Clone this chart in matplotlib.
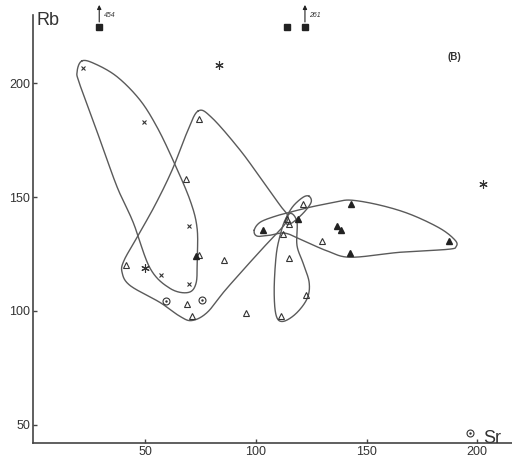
import numpy as np
import matplotlib
matplotlib.use("Agg")
import matplotlib.pyplot as plt

plt.rcParams['font.family'] = ['Liberation Sans Narrow', 'Liberation Sans', 'DejaVu Sans']

# ---- data (Sr, Rb) ----
cross_sr = [22.1, 49.4, 69.9, 57.4, 69.7]
cross_rb = [206.7, 183.2, 137.2, 116.0, 111.7]

open_tri_sr = [74.3, 68.7, 41.4, 74.5, 85.7, 69.0, 71.1, 95.6, 121.2, 114.0, 114.9,
               112.5, 129.8, 114.9, 122.6, 111.4]
open_tri_rb = [184.5, 158.1, 120.4, 124.6, 122.6, 103.2, 97.9, 98.9, 147.2, 140.2, 138.1,
               134.0, 130.6, 123.4, 106.8, 97.6]

filled_tri_sr = [73.0, 103.4, 119.2, 142.9, 136.6, 138.5, 142.6, 187.4]
filled_tri_rb = [124.2, 135.5, 140.2, 146.8, 137.2, 135.5, 125.6, 130.6]

star_sr = [83.4, 202.8, 50.0]
star_rb = [208.1, 155.6, 119.0]

circ_sr = [59.5, 75.7, 196.9]
circ_rb = [104.2, 104.9, 46.5]

# off-scale samples (plotted at top with arrow and true Rb value)
square_sr = [29.3, 114.3, 122.2]
square_rb = [225.0, 225.0, 225.0]
square_true = [454, None, 261]

x_ticks = [50, 100, 150, 200]
y_ticks = [50, 100, 150, 200]

# ---- field envelopes (Sr, Rb outline points) ----
env_cross = [(21.5, 209.9), (27.4, 208.6), (37.4, 202.9), (47.7, 192.7), (55.4, 180.8),
             (62.6, 166.3), (70.3, 148.7), (73.5, 136.3), (73.5, 122.2), (73.0, 112.1),
             (69.4, 108.1), (61.3, 109.9), (52.3, 118.7), (44.6, 139.0), (37.4, 154.4),
             (29.7, 175.1), (20.6, 199.3), (19.3, 205.1)]
env_open = [(74.0, 187.9), (80.3, 184.8), (92.9, 170.7), (102.8, 157.5), (110.9, 146.5),
            (114.5, 141.6), (112.8, 137.7), (106.5, 131.1), (97.4, 121.4), (86.1, 109.0),
            (78.0, 99.3), (71.2, 95.8), (65.8, 97.6), (56.8, 103.7), (43.2, 111.2),
            (39.6, 117.0), (40.5, 122.2), (46.4, 132.4), (54.5, 146.5), (62.2, 161.9),
            (69.0, 178.6)]
env_filled = [(99.3, 135.5), (102.0, 139.0), (108.7, 141.6), (115.5, 143.4), (124.5, 145.6),
              (135.8, 147.8), (143.0, 148.7), (156.1, 146.5), (169.7, 142.5), (183.2, 136.3),
              (190.0, 131.1), (190.5, 128.4), (186.9, 127.1), (165.2, 125.8), (143.0, 123.6),
              (132.7, 126.2), (121.0, 131.1), (113.2, 134.2), (106.5, 133.3), (100.6, 132.9)]
env_small = [(124.1, 150.4), (125.0, 147.8), (121.8, 143.4), (116.8, 139.0), (114.1, 138.1),
             (113.7, 140.7), (116.8, 146.0), (121.4, 150.0)]
env_vert = [(115.9, 142.9), (118.6, 139.0), (118.6, 128.8), (121.4, 120.9), (124.1, 112.5),
            (123.2, 105.5), (118.2, 98.9), (112.3, 95.4), (109.2, 98.0), (108.3, 109.0),
            (109.2, 124.4), (111.0, 133.3), (113.2, 139.9)]


def closed_spline(pts, n=30):
    p = np.array(pts, dtype=float)
    m = len(p)
    out = []
    for i in range(m):
        p0, p1, p2, p3 = p[(i - 1) % m], p[i], p[(i + 1) % m], p[(i + 2) % m]
        t = np.linspace(0, 1, n, endpoint=False)[:, None]
        seg = 0.5 * ((2 * p1) + (-p0 + p2) * t + (2 * p0 - 5 * p1 + 4 * p2 - p3) * t ** 2
                     + (-p0 + 3 * p1 - 3 * p2 + p3) * t ** 3)
        out.append(seg)
    out = np.vstack(out)
    return np.vstack([out, out[:1]])


fig = plt.figure(figsize=(5.12, 4.59), dpi=100)
ax = fig.add_axes([0.0645, 0.035, 0.9355, 0.932])
ax.set_xlim(-0.6, 215.7)
ax.set_ylim(42, 230)

line_col = '#5a5a5a'
mk_col = '#333333'
for env in [env_cross, env_open, env_filled, env_small, env_vert]:
    c = closed_spline(env)
    ax.plot(c[:, 0], c[:, 1], color=line_col, lw=1.0)

ax.plot(cross_sr, cross_rb, 'x', color=mk_col, ms=3.5, mew=0.8)
ax.plot(open_tri_sr, open_tri_rb, '^', mfc='none', mec=mk_col, ms=4.5, mew=0.8)
ax.plot(filled_tri_sr, filled_tri_rb, '^', color='#222222', ms=4.5)
ax.plot(star_sr, star_rb, marker=(6, 2, 0), color=mk_col, ms=6, mew=0.8, linestyle='none')
ax.plot(circ_sr, circ_rb, 'o', mfc='none', mec=mk_col, ms=5, mew=0.8)
ax.plot(circ_sr, circ_rb, '.', color=mk_col, ms=1.5)
ax.plot(square_sr, square_rb, 's', color='#222222', ms=4.5, clip_on=False)

for sx, sy, tv in zip(square_sr, square_rb, square_true):
    if tv is None:
        continue
    ax.annotate('', xy=(sx, sy + 9.5), xytext=(sx, sy + 2),
                arrowprops=dict(arrowstyle='-|>', color='#222222', lw=0.8,
                                mutation_scale=6, shrinkA=0, shrinkB=0),
                annotation_clip=False)
    ax.text(sx + 2.0, sy + 4.8, str(tv), fontsize=5, style='italic',
            ha='left', va='center', color='#333333', clip_on=False)

ax.text(189.5, 211.5, '(B)', fontsize=7, fontweight='bold', ha='center', va='center',
        color='#333333')

for sp in ['top', 'right']:
    ax.spines[sp].set_visible(False)
for sp in ['left', 'bottom']:
    ax.spines[sp].set_linewidth(1.2)
    ax.spines[sp].set_color('#444444')

ax.set_xticks(x_ticks)
ax.set_yticks(y_ticks)
ax.set_xticklabels([str(t) for t in x_ticks])
ax.set_yticklabels([str(t) for t in y_ticks])
ax.tick_params(direction='in', length=3, width=1, colors='#444444',
               labelsize=9, labelcolor='#333333', pad=2)

fig.text(0.072, 0.955, 'Rb', fontsize=13, ha='left', va='center', color='#333333')
fig.text(0.943, 0.045, 'Sr', fontsize=13, ha='left', va='center', color='#333333')

fig.savefig('out.png', dpi=100)
